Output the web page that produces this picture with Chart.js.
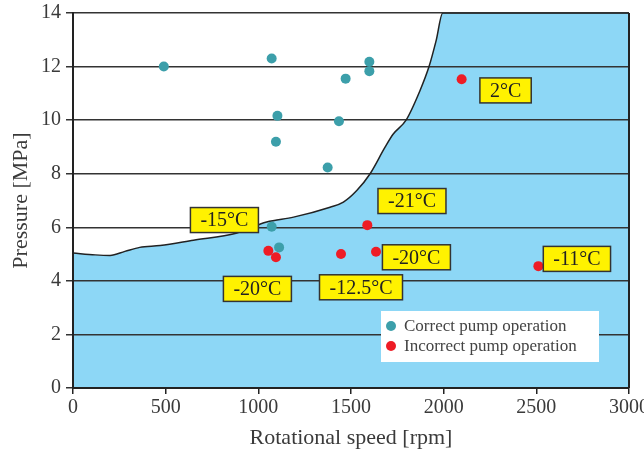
<!DOCTYPE html>
<html>
<head>
<meta charset="utf-8">
<script src="https://cdn.jsdelivr.net/npm/chart.js@4/dist/chart.umd.min.js"></script>
<style>
  html, body { margin: 0; padding: 0; background: #fff; }
  #wrap { width: 644px; height: 454px; }
</style>
</head>
<body>
<div id="wrap"><canvas id="pumpChart" width="644" height="454"></canvas></div>
<script>
// boundary of the correct-operation region (pressure vs speed)
const curveX = [0, 120, 200, 280, 360, 470, 650, 880, 1045, 1190, 1387, 1459, 1531, 1603, 1683, 1728, 1797, 1872, 1921, 1959, 1995, 3000];
const curveY = [5.04, 4.97, 4.95, 5.1, 5.25, 5.32, 5.52, 5.78, 6.2, 6.38, 6.75, 6.94, 7.37, 8.0, 8.98, 9.48, 10.0, 11.1, 12.0, 12.96, 14, 14];

const correctX = [490, 1072, 1599, 1599, 1471, 1103, 1435, 1095, 1374, 1072, 1112];
const correctY = [12.0, 12.3, 12.18, 11.83, 11.55, 10.16, 9.96, 9.19, 8.23, 6.02, 5.25];
const incorrectX = [1054, 1095, 1446, 1635, 1588, 2097, 2511];
const incorrectY = [5.12, 4.88, 5.0, 5.09, 6.08, 11.53, 4.55];

const tempLabels = ["-15°C", "-21°C", "-20°C", "-11°C", "-20°C", "-12.5°C", "2°C"];
const tempX = [817, 1829, 1853, 2719, 995, 1554, 2334];
const tempY = [6.27, 6.98, 4.88, 4.82, 3.70, 3.76, 11.11];

const seriesNames = ["Correct pump operation", "Incorrect pump operation"];

const teal = "#3c9faa";
const red = "#ee1c25";
const serif = "'Liberation Serif', 'Times New Roman', serif";
const textColor = "#3a3a3a";

const zip = (xs, ys) => xs.map((x, i) => ({ x: x, y: ys[i] }));

// yellow temperature boxes
const tempBoxes = {
  id: "tempBoxes",
  afterDatasetsDraw(chart) {
    const { ctx, scales } = chart;
    ctx.save();
    ctx.font = "20px " + serif;
    ctx.textAlign = "center";
    ctx.textBaseline = "middle";
    tempLabels.forEach((t, i) => {
      const cx = scales.x.getPixelForValue(tempX[i]);
      const cy = scales.y.getPixelForValue(tempY[i]);
      const w = ctx.measureText(t).width + 20;
      const h = 25;
      ctx.fillStyle = "#fff200";
      ctx.fillRect(cx - w / 2, cy - h / 2, w, h);
      ctx.lineWidth = 1.5;
      ctx.strokeStyle = "#333";
      ctx.strokeRect(cx - w / 2, cy - h / 2, w, h);
      ctx.fillStyle = "#222";
      ctx.fillText(t, cx, cy + 1);
    });
    ctx.restore();
  },
};

// legend inside plot + right frame line
const innerLegend = {
  id: "innerLegend",
  afterDraw(chart) {
    const { ctx, chartArea } = chart;
    ctx.save();
    ctx.strokeStyle = "#222";
    ctx.lineWidth = 2;
    ctx.beginPath();
    ctx.moveTo(chartArea.right, chartArea.top);
    ctx.lineTo(chartArea.right, chartArea.bottom);
    ctx.stroke();

    const bx = chartArea.right - 248, by = chartArea.bottom - 77;
    ctx.fillStyle = "#fff";
    ctx.fillRect(bx, by, 218, 51);
    ctx.font = "17px " + serif;
    ctx.textBaseline = "middle";
    ctx.textAlign = "left";
    [teal, red].forEach((c, i) => {
      const y = by + 15 + i * 20;
      ctx.fillStyle = c;
      ctx.beginPath();
      ctx.arc(bx + 10, y, 5, 0, Math.PI * 2);
      ctx.fill();
      ctx.fillStyle = "#444";
      ctx.fillText(seriesNames[i], bx + 23, y + 1);
    });
    ctx.restore();
  },
};

const chart = new Chart(document.getElementById("pumpChart"), {
  type: "scatter",
  data: {
    datasets: [
      {
        label: seriesNames[0],
        data: zip(correctX, correctY),
        backgroundColor: teal,
        borderWidth: 0,
        pointRadius: 5,
      },
      {
        label: seriesNames[1],
        data: zip(incorrectX, incorrectY),
        backgroundColor: red,
        borderWidth: 0,
        pointRadius: 5,
      },
      {
        type: "line",
        label: "boundary",
        data: zip(curveX, curveY),
        borderColor: "#222",
        borderWidth: 1.5,
        backgroundColor: "#8dd7f6",
        fill: "start",
        pointRadius: 0,
        cubicInterpolationMode: "monotone",
      },
    ],
  },
  options: {
    responsive: false,
    animation: false,
    layout: { padding: { top: 13, right: 15, left: 0, bottom: 0 } },
    plugins: {
      legend: { display: false },
      tooltip: { enabled: false },
      filler: { drawTime: "beforeDraw" },
    },
    scales: {
      x: {
        type: "linear",
        min: 0,
        max: 3000,
        afterFit: (s) => { s.height = 66; s.paddingLeft = 0; s.paddingRight = 0; },
        ticks: {
          stepSize: 500,
          color: textColor,
          padding: 2,
          font: { family: serif, size: 20 },
          callback: (v) => String(v),
        },
        grid: { drawOnChartArea: false, drawTicks: true, tickLength: 6, color: "#222", lineWidth: 1.5 },
        border: { color: "#222", width: 2 },
        title: {
          display: true,
          text: "Rotational speed [rpm]",
          color: textColor,
          font: { family: serif, size: 22 },
          padding: { top: 0, bottom: 3 },
        },
      },
      y: {
        min: 0,
        max: 14,
        afterFit: (s) => { s.width = 73; s.paddingTop = 0; s.paddingBottom = 0; },
        ticks: { stepSize: 2, color: textColor, padding: 5, font: { family: serif, size: 20 } },
        grid: { color: "#333", lineWidth: 1.5, tickLength: 7 },
        border: { color: "#222", width: 2 },
        title: {
          display: true,
          text: "Pressure [MPa]",
          color: textColor,
          font: { family: serif, size: 22 },
          padding: { top: 8, bottom: 0 },
        },
      },
    },
  },
  plugins: [tempBoxes, innerLegend],
});
</script>
</body>
</html>
